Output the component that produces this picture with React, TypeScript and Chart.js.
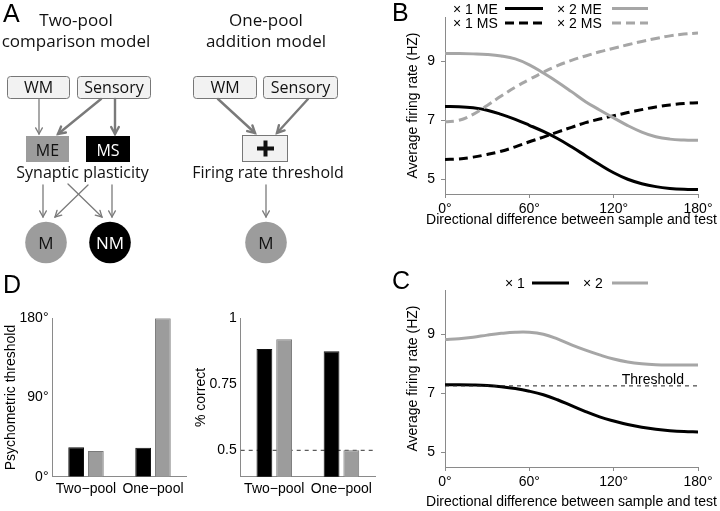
import React, { useEffect, useRef } from "react";
import { Chart, registerables } from "chart.js";

Chart.register(...registerables);

// ---------------- DATA ----------------
const angles = [0, 10, 20, 30, 40, 50, 60, 70, 80, 90, 100, 110, 120, 130, 140, 150, 160, 170, 180];
const angleTicks = [0, 60, 120, 180];
const rateTicks = [5, 7, 9];
const xAxisTitle = "Directional difference between sample and test";
const yAxisTitle = "Average firing rate (HZ)";

// Panel B
const bOneME = [7.47, 7.46, 7.42, 7.34, 7.2, 7.03, 6.83, 6.62, 6.38, 6.1, 5.8, 5.5, 5.22, 5.0, 4.85, 4.75, 4.69, 4.66, 4.65];
const bOneMS = [5.67, 5.69, 5.75, 5.84, 5.95, 6.1, 6.27, 6.43, 6.6, 6.76, 6.92, 7.04, 7.15, 7.26, 7.36, 7.45, 7.52, 7.57, 7.59];
const bTwoME = [9.26, 9.26, 9.25, 9.23, 9.18, 9.08, 8.88, 8.6, 8.3, 7.97, 7.63, 7.35, 7.08, 6.82, 6.6, 6.44, 6.36, 6.33, 6.32];
const bTwoMS = [6.95, 7.0, 7.2, 7.5, 7.82, 8.12, 8.38, 8.63, 8.85, 9.03, 9.18, 9.32, 9.44, 9.56, 9.67, 9.77, 9.86, 9.92, 9.96];

// Panel C
const cOne = [7.29, 7.29, 7.28, 7.26, 7.22, 7.16, 7.07, 6.95, 6.78, 6.58, 6.38, 6.2, 6.06, 5.94, 5.85, 5.78, 5.73, 5.7, 5.69];
const cTwo = [8.82, 8.85, 8.9, 8.97, 9.03, 9.07, 9.07, 9.0, 8.84, 8.64, 8.46, 8.3, 8.16, 8.06, 8.0, 7.97, 7.96, 7.96, 7.96];
const thresholdValue = 7.25;
const thresholdLabelAngle = 125.7;

// Panel D
const categories = ["Two\u2212pool", "One\u2212pool"];
const categoryPos = [1, 2];
const psychX1 = [33.4, 33];
const psychX2 = [29.2, 180];
const psychTicks = [0, 90, 180];
const correctX1 = [0.884, 0.875];
const correctX2 = [0.921, 0.5];
const chanceLevel = 0.5;
const correctTicks = [0.5, 0.75, 1];

// ---------------- STYLE ----------------
const FONT = "'Liberation Sans', Arial, Helvetica, sans-serif";
const DIAG_FONT = "'Open Sans', 'Noto Sans', sans-serif";
const GRAY_LINE = "#a6a6a6";
const GRAY_BAR = "#9c9c9c";
const AXIS = "#8a8a8a";
const ARROW = "#7a7a7a";

Chart.defaults.font.family = FONT;
Chart.defaults.font.size = 14;
Chart.defaults.color = "#000";

const pts = (xs: number[], ys: number[]) => xs.map((x, i) => ({ x, y: ys[i] }));

function setTicks(values: number[]) {
  return (s: any) => {
    s.ticks = values.map((v) => ({ value: v }));
  };
}

function lineDataset(label: string, ys: number[], color: string, dashed: boolean) {
  return {
    label,
    data: pts(angles, ys),
    borderColor: color,
    borderWidth: 3,
    borderDash: dashed ? [9, 5] : [],
    pointRadius: 0,
    tension: 0.4,
    fill: false,
  };
}

// x-axis title drawn without Chart.js' maxWidth squeeze
const xTitlePlugin = {
  id: "xTitleFree",
  afterDraw(chart: any) {
    const { ctx, chartArea, scales } = chart;
    ctx.save();
    ctx.font = "14px " + FONT;
    ctx.fillStyle = "#000";
    ctx.textAlign = "center";
    ctx.textBaseline = "middle";
    ctx.fillText(xAxisTitle, (chartArea.left + chartArea.right) / 2, scales.x.bottom - 8.4);
    ctx.restore();
  },
};

function angleScales(yBoxWidth: number, xBoxHeight: number) {
  return {
    x: {
      type: "linear" as const,
      min: 0,
      max: 180,
      afterBuildTicks: setTicks(angleTicks),
      ticks: { callback: (v: any) => v + "\u00b0", maxRotation: 0, padding: 3, color: "#000", font: { size: 14 } },
      grid: { display: true, drawOnChartArea: false, drawTicks: true, tickLength: 4, color: AXIS },
      border: { display: true, color: AXIS, width: 1 },
      afterFit: (s: any) => {
        s.height = xBoxHeight;
      },
    },
    y: {
      type: "linear" as const,
      min: 4.5,
      max: 10.5,
      afterBuildTicks: setTicks(rateTicks),
      ticks: { padding: 6, color: "#000", font: { size: 14 } },
      grid: { display: true, drawOnChartArea: false, drawTicks: true, tickLength: 4, color: AXIS },
      border: { display: true, color: AXIS, width: 1 },
      title: { display: true, text: yAxisTitle, padding: 0, color: "#000", font: { size: 14 } },
      afterFit: (s: any) => {
        s.width = yBoxWidth;
      },
    },
  };
}

function configB() {
  return {
    type: "line",
    data: {
      datasets: [
        lineDataset("\u00d7 2 MS", bTwoMS, GRAY_LINE, true),
        lineDataset("\u00d7 2 ME", bTwoME, GRAY_LINE, false),
        lineDataset("\u00d7 1 MS", bOneMS, "#000", true),
        lineDataset("\u00d7 1 ME", bOneME, "#000", false),
      ],
    },
    options: {
      responsive: false,
      animation: false,
      devicePixelRatio: 1,
      layout: { padding: { left: 44.6, right: 22, top: 17, bottom: 6.6 } },
      plugins: { legend: { display: false }, tooltip: { enabled: false } },
      scales: angleScales(40.4, 34.4),
    },
    plugins: [xTitlePlugin],
  };
}

const thresholdLabelPlugin = {
  id: "thresholdLabel",
  afterDatasetsDraw(chart: any) {
    const { ctx, scales } = chart;
    ctx.save();
    ctx.font = "14px " + FONT;
    ctx.fillStyle = "#000";
    ctx.textAlign = "left";
    ctx.textBaseline = "alphabetic";
    ctx.fillText("Threshold", scales.x.getPixelForValue(thresholdLabelAngle), scales.y.getPixelForValue(thresholdValue) - 2);
    ctx.restore();
  },
};

function configC() {
  return {
    type: "line",
    data: {
      datasets: [
        {
          label: "Threshold",
          data: [
            { x: angles[0], y: thresholdValue },
            { x: angles[angles.length - 1], y: thresholdValue },
          ],
          borderColor: "#222",
          borderWidth: 1,
          borderDash: [4, 4],
          pointRadius: 0,
        },
        lineDataset("\u00d7 2", cTwo, GRAY_LINE, false),
        lineDataset("\u00d7 1", cOne, "#000", false),
      ],
    },
    options: {
      responsive: false,
      animation: false,
      devicePixelRatio: 1,
      layout: { padding: { left: 44.6, right: 22, top: 30, bottom: 0 } },
      plugins: { legend: { display: false }, tooltip: { enabled: false } },
      scales: angleScales(40.4, 44),
    },
    plugins: [thresholdLabelPlugin, xTitlePlugin],
  };
}

function barScales(yMin: number, yMax: number, yTicks: number[], fmt: (v: number) => string, yTitle: string, yBoxWidth: number) {
  return {
    x: {
      type: "linear" as const,
      min: 0.5,
      max: 2.5,
      offset: false,
      afterBuildTicks: setTicks(categoryPos),
      ticks: { callback: (v: any) => categories[categoryPos.indexOf(v)] ?? "", maxRotation: 0, padding: 4, color: "#000", font: { size: 14 } },
      grid: { display: false, drawTicks: false },
      border: { display: true, color: AXIS, width: 1 },
      afterFit: (s: any) => {
        s.height = 34.3;
      },
    },
    y: {
      type: "linear" as const,
      min: yMin,
      max: yMax,
      beginAtZero: false,
      afterBuildTicks: setTicks(yTicks),
      ticks: { callback: (v: any) => fmt(v), padding: 4, color: "#000", font: { size: 14 } },
      grid: { display: false, drawTicks: false },
      border: { display: true, color: AXIS, width: 1 },
      title: { display: true, text: yTitle, padding: 0, color: "#000", font: { size: 14 } },
      afterFit: (s: any) => {
        s.width = yBoxWidth;
      },
    },
  };
}

function barDataset(label: string, ys: number[], fill: string, border: string) {
  return {
    type: "bar",
    label,
    data: pts(categoryPos, ys),
    backgroundColor: fill,
    borderColor: border,
    borderWidth: 1,
    categoryPercentage: 0.588,
    barPercentage: 0.8,
    order: 0,
  };
}

function configDLeft() {
  return {
    type: "bar",
    data: {
      datasets: [barDataset("\u00d7 1", psychX1, "#000", "#111"), barDataset("\u00d7 2", psychX2, GRAY_BAR, "#7a7a7a")],
    },
    options: {
      responsive: false,
      animation: false,
      devicePixelRatio: 1,
      layout: { padding: { left: 3.1, right: 13.5, top: 18.3, bottom: 0 } },
      plugins: { legend: { display: false }, tooltip: { enabled: false } },
      scales: barScales(0, 180, psychTicks, (v) => v + "\u00b0", "Psychometric threshold", 49.4),
    },
  };
}

function configDRight() {
  return {
    type: "bar",
    data: {
      datasets: [
        barDataset("\u00d7 1", correctX1, "#000", "#111"),
        barDataset("\u00d7 2", correctX2, GRAY_BAR, "#7a7a7a"),
        {
          type: "line",
          label: "chance",
          data: [
            { x: 0.5, y: chanceLevel },
            { x: 2.5, y: chanceLevel },
          ],
          borderColor: "#333",
          borderWidth: 1,
          borderDash: [4, 4],
          pointRadius: 0,
          order: 1,
        },
      ],
    },
    options: {
      responsive: false,
      animation: false,
      devicePixelRatio: 1,
      layout: { padding: { left: 2.6, right: 15, top: 18.3, bottom: 0 } },
      plugins: { legend: { display: false }, tooltip: { enabled: false } },
      scales: barScales(0.4, 1.0, correctTicks, (v) => String(v), "% correct", 48.1),
    },
  };
}

function ChartCanvas({ left, top, width, height, make }: { left: number; top: number; width: number; height: number; make: () => any }) {
  const ref = useRef<HTMLCanvasElement>(null);
  useEffect(() => {
    const chart = new Chart(ref.current as HTMLCanvasElement, make());
    return () => chart.destroy();
  }, []);
  return <canvas ref={ref} width={width} height={height} style={{ position: "absolute", left, top, width, height }} />;
}

function Arrow({ x1, y1, x2, y2, w, h }: { x1: number; y1: number; x2: number; y2: number; w: number; h: number }) {
  const ang = Math.atan2(y2 - y1, x2 - x1);
  const a = 0.5;
  const p1 = [x2 - h * Math.cos(ang - a), y2 - h * Math.sin(ang - a)];
  const p2 = [x2 - h * Math.cos(ang + a), y2 - h * Math.sin(ang + a)];
  return (
    <g stroke={ARROW} strokeWidth={w} fill="none" strokeLinecap="round" strokeLinejoin="miter">
      <line x1={x1} y1={y1} x2={x2} y2={y2} />
      <polyline points={`${p1[0]},${p1[1]} ${x2},${y2} ${p2[0]},${p2[1]}`} />
    </g>
  );
}

function Diagram() {
  const t = { fontFamily: DIAG_FONT, fill: "#111" } as any;
  const box = { fill: "#f2f2f2", stroke: "#777", strokeWidth: 1 } as any;
  return (
    <g>
      <text x={76} y={26} fontSize={17} textAnchor="middle" {...t}>Two-pool</text>
      <text x={76} y={47} fontSize={17} textAnchor="middle" {...t}>comparison model</text>
      <text x={266} y={26} fontSize={17} textAnchor="middle" {...t}>One-pool</text>
      <text x={266} y={47} fontSize={17} textAnchor="middle" {...t}>addition model</text>

      <rect x={7.5} y={76.5} width={62} height={22} rx={3} {...box} />
      <text x={38.5} y={93} fontSize={16} textAnchor="middle" {...t}>WM</text>
      <rect x={77.5} y={76.5} width={73} height={22} rx={3} {...box} />
      <text x={114} y={93} fontSize={16} textAnchor="middle" {...t}>Sensory</text>
      <rect x={193.5} y={76.5} width={63} height={22} rx={3} {...box} />
      <text x={225} y={93} fontSize={16} textAnchor="middle" {...t}>WM</text>
      <rect x={263.5} y={76.5} width={74} height={22} rx={3} {...box} />
      <text x={300.5} y={93} fontSize={16} textAnchor="middle" {...t}>Sensory</text>

      <rect x={26} y={136} width={43} height={26} fill={GRAY_BAR} />
      <text x={47.5} y={156} fontSize={16} textAnchor="middle" {...t}>ME</text>
      <rect x={86} y={136} width={44} height={26} fill="#000" />
      <text x={108} y={156} fontSize={16} textAnchor="middle" fontFamily={DIAG_FONT} fill="#fff">MS</text>

      <rect x={242.5} y={135.5} width={45} height={26} {...box} />
      <path d="M 257 148.5 L 274 148.5 M 265.5 140.5 L 265.5 156.5" stroke="#111" strokeWidth={4} />

      <text x={82.5} y={178} fontSize={16} textAnchor="middle" {...t}>Synaptic plasticity</text>
      <text x={268} y={178} fontSize={16} textAnchor="middle" {...t}>Firing rate threshold</text>

      <circle cx={46} cy={242.5} r={20.8} fill={GRAY_BAR} />
      <text x={46} y={249} fontSize={17} textAnchor="middle" {...t}>M</text>
      <circle cx={110} cy={242.5} r={20.8} fill="#000" />
      <text x={110} y={249} fontSize={17} textAnchor="middle" fontFamily={DIAG_FONT} fill="#fff">NM</text>
      <circle cx={266} cy={242.5} r={20.8} fill={GRAY_BAR} />
      <text x={266} y={249} fontSize={17} textAnchor="middle" {...t}>M</text>

      <Arrow x1={39} y1={99} x2={39} y2={134} w={1.3} h={7} />
      <Arrow x1={101} y1={99} x2={58} y2={134} w={2.4} h={8} />
      <Arrow x1={115} y1={99} x2={115} y2={134} w={2.4} h={8} />
      <Arrow x1={218} y1={99} x2={255} y2={133} w={2.4} h={8} />
      <Arrow x1={308} y1={99} x2={277} y2={133} w={2.4} h={8} />

      <Arrow x1={43} y1={185} x2={43} y2={217} w={1.3} h={7} />
      <Arrow x1={88} y1={185} x2={55} y2={217} w={1.3} h={7} />
      <Arrow x1={68} y1={184} x2={102} y2={217} w={1.3} h={7} />
      <Arrow x1={112} y1={185} x2={112} y2={217} w={1.3} h={7} />
      <Arrow x1={266} y1={185} x2={266} y2={217} w={1.3} h={7} />
    </g>
  );
}

function Legends() {
  const t = { fontFamily: FONT, fontSize: 14, fill: "#000" } as any;
  return (
    <g>
      <text x={453} y={13.5} {...t}>{"\u00d7 1 ME"}</text>
      <line x1={505} y1={8.5} x2={543} y2={8.5} stroke="#000" strokeWidth={3} />
      <text x={557} y={13.5} {...t}>{"\u00d7 2 ME"}</text>
      <line x1={612} y1={8.5} x2={648} y2={8.5} stroke={GRAY_LINE} strokeWidth={3} />
      <text x={453} y={27.5} {...t}>{"\u00d7 1 MS"}</text>
      <line x1={505} y1={23} x2={543} y2={23} stroke="#000" strokeWidth={3} strokeDasharray="9 5" />
      <text x={557} y={27.5} {...t}>{"\u00d7 2 MS"}</text>
      <line x1={612} y1={23} x2={648} y2={23} stroke={GRAY_LINE} strokeWidth={3} strokeDasharray="9 5" />

      <text x={505} y={287.5} {...t}>{"\u00d7 1"}</text>
      <line x1={532} y1={283} x2={569} y2={283} stroke="#000" strokeWidth={3} />
      <text x={583} y={287.5} {...t}>{"\u00d7 2"}</text>
      <line x1={612} y1={283} x2={648} y2={283} stroke={GRAY_LINE} strokeWidth={3} />
    </g>
  );
}

export default function App() {
  const letter = { fontFamily: FONT, fontSize: 25, fill: "#000" } as any;
  return (
    <div style={{ position: "absolute", left: 0, top: 0, width: 720, height: 511, background: "#fff", overflow: "hidden" }}>
      <ChartCanvas left={360} top={0} width={360} height={235} make={configB} />
      <ChartCanvas left={360} top={260} width={360} height={251} make={configC} />
      <ChartCanvas left={0} top={300} width={200} height={211} make={configDLeft} />
      <ChartCanvas left={190} top={300} width={200} height={211} make={configDRight} />
      <svg width={720} height={511} style={{ position: "absolute", left: 0, top: 0, pointerEvents: "none" }}>
        <text x={3} y={22} {...letter}>A</text>
        <text x={392} y={21} {...letter}>B</text>
        <text x={392} y={289} {...letter}>C</text>
        <text x={3} y={293} {...letter}>D</text>
        <Diagram />
        <Legends />
      </svg>
    </div>
  );
}
